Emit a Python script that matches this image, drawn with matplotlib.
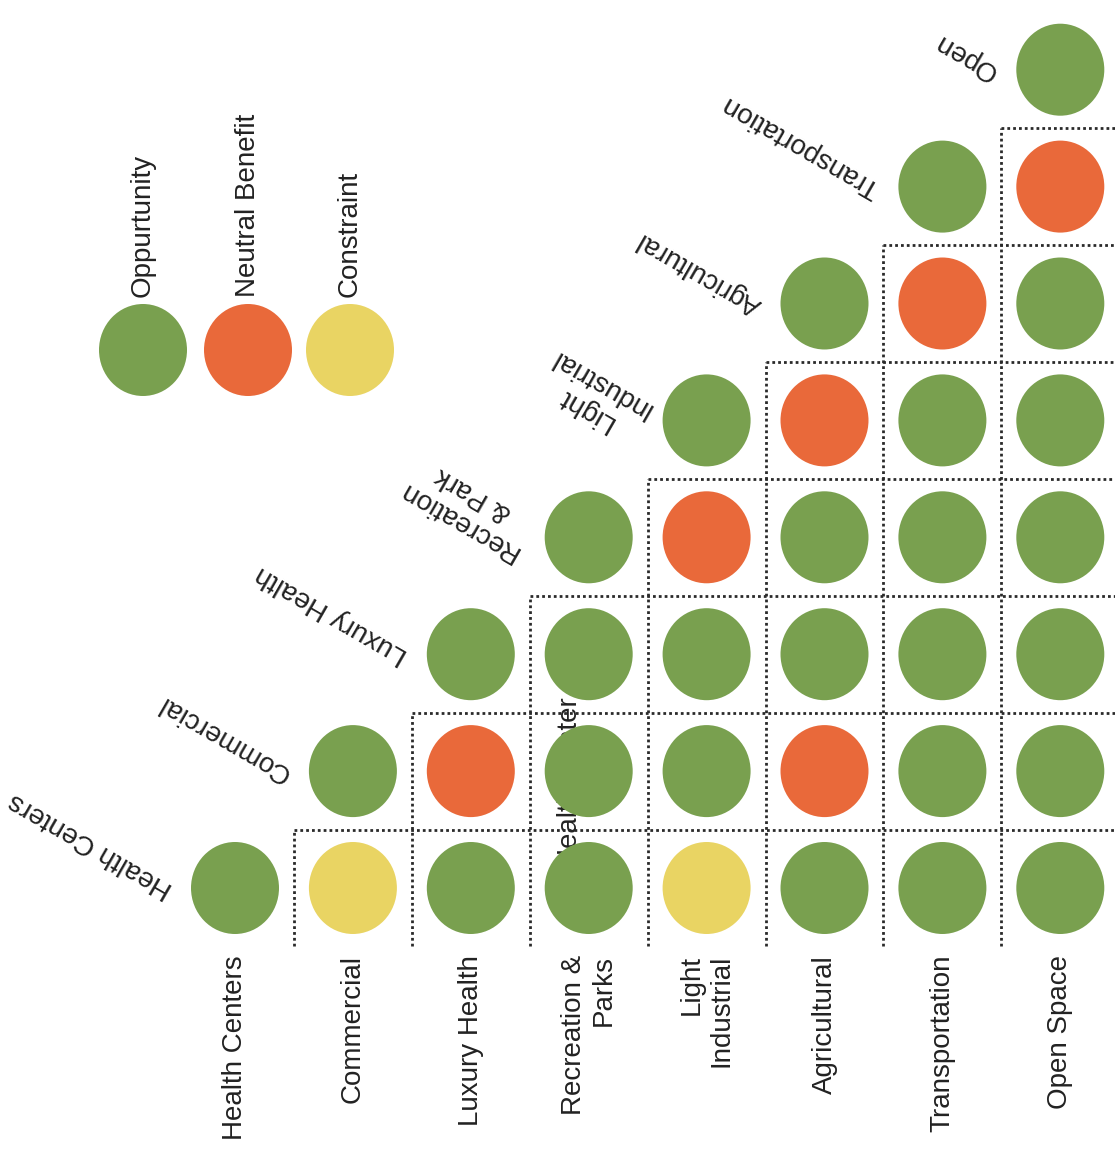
import matplotlib
matplotlib.use('Agg')
import matplotlib.pyplot as plt
from matplotlib.patches import Ellipse

plt.rcParams['font.family'] = ['Liberation Sans', 'DejaVu Sans']

# ---------------- data ----------------
categories = ["Health Centers", "Commercial", "Luxury Health", "Recreation &\nParks",
              "Light\nIndustrial", "Agricultural", "Transportation", "Open Space"]
diag_labels = ["Health Centers", "Commercial", "Luxury Health", "Recreation\n& Park",
               "Light\nIndustrial", "Agricultural", "Transportation", "Open"]
legend_labels = ["Oppurtunity", "Neutral Benefit", "Constraint"]
legend_codes = ["O", "N", "C"]

# row j lists the ratings for columns j..7 (first entry = diagonal)
row0 = ["O", "C", "O", "O", "C", "O", "O", "O"]
row1 = ["O", "N", "O", "O", "N", "O", "O"]
row2 = ["O", "O", "O", "O", "O", "O"]
row3 = ["O", "N", "O", "O", "O"]
row4 = ["O", "N", "O", "O"]
row5 = ["O", "N", "O"]
row6 = ["O", "N"]
row7 = ["O"]
rows = [row0, row1, row2, row3, row4, row5, row6, row7]

colors = {"O": "#79a04f", "N": "#e9693a", "C": "#e9d463"}

# ---------------- figure ----------------
W, H = 1115, 1149
fig = plt.figure(figsize=(W / 100, H / 100), dpi=100)
ax = fig.add_axes([0, 0, 1, 1])
dx, dy = 117.9, 116.9      # pixel size of one cell
x0, y0 = 235, 888          # pixel centre of the first circle
ax.set_xlim(-x0 / dx, (W - x0) / dx)
ax.set_ylim((y0 - H) / dy, y0 / dy)
ax.axis('off')

ew, eh = 88 / dx, 92 / dy
n = len(categories)
txt_col = '#222222'

# hidden fragment of a label behind the circles
ax.text((570 - x0) / dx, (y0 - 868) / dy, "Health Center", rotation=90,
        ha='center', va='bottom', fontsize=20, color=txt_col, zorder=1)

# circles
for j, r in enumerate(rows):
    for k, code in enumerate(r):
        i = j + k
        ax.add_patch(Ellipse((i, j), ew, eh, facecolor=colors[code],
                             edgecolor='none', zorder=3))

# dotted grid (below-diagonal cells)
ls = (0, (1, 1.1))
for j in range(n - 1):
    ax.plot([j + 0.5, n - 0.5], [j + 0.5, j + 0.5], color='#2a2a2a', lw=2,
            linestyle=ls, zorder=2, solid_capstyle='butt')
for i in range(1, n):
    ax.plot([i - 0.5, i - 0.5], [-0.5, i - 0.5], color='#2a2a2a', lw=2,
            linestyle=ls, zorder=2, solid_capstyle='butt')

# bottom category labels
for i, lab in enumerate(categories):
    ax.text(i, (y0 - 955) / dy, lab, rotation=90, ha='center', va='top',
            multialignment='right', fontsize=20, color=txt_col)

# diagonal labels
for i, lab in enumerate(diag_labels):
    ax.text(i - 0.55, i - 0.03, lab, rotation=150, rotation_mode='anchor',
            ha='left', va='center', multialignment='center',
            fontsize=20, color=txt_col)

# legend
leg_px = [143, 248, 350]
for xp, lab, code in zip(leg_px, legend_labels, legend_codes):
    xx = (xp - x0) / dx
    yy = (y0 - 350) / dy
    ax.add_patch(Ellipse((xx, yy), ew, eh, facecolor=colors[code],
                         edgecolor='none', zorder=3))
    ax.text(xx, (y0 - 297) / dy, lab, rotation=90, ha='center', va='bottom',
            fontsize=20, color=txt_col)

fig.savefig('out.png', dpi=100, facecolor='white')
